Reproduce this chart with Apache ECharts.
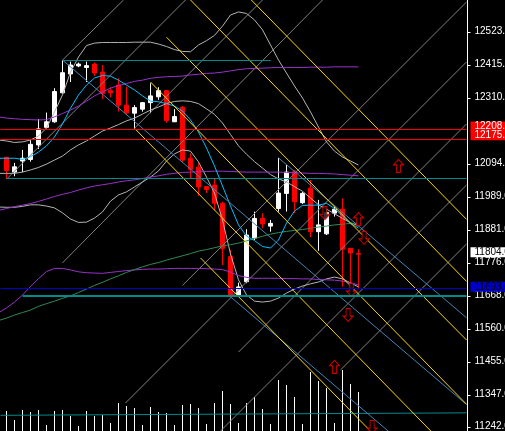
<!DOCTYPE html>
<html><head><meta charset="utf-8">
<script src="https://cdn.jsdelivr.net/npm/echarts@6/dist/echarts.min.js"></script>
<style>html,body{margin:0;padding:0;background:#000;overflow:hidden}#c{width:505px;height:431px}</style>
</head><body><div id="c"></div>
<script>
// ---- candles (index 0..44) ----
const opens  = [12118,12070,12106,12111,12158,12215,12233,12327,12388,12414,12409,12420,12394,12334,12352,12287,12261,12274,12295,12314,12334,12233,12280,12115,12086,12023,12028,11969,11796,11672,11715,11856,11920,11895,11952,12001,12071,11971,12018,11877,11870,11937,11950,11823,11806];
const closes = [12075,12087,12115,12160,12210,12233,12331,12392,12417,12420,12415,12391,12325,12327,12287,12262,12279,12295,12317,12334,12237,12250,12109,12079,12022,12014,11969,11823,11672,11698,11866,11920,11902,11904,12002,12070,11974,12001,11877,11899,11939,11950,11820,11808,11804];
const lows   = [12047,12057,12070,12104,12145,12212,12230,12325,12362,12410,12362,12381,12306,12312,12266,12255,12212,12266,12261,12304,12230,12233,12103,12050,11993,12002,11947,11769,11666,11666,11710,11850,11888,11877,11942,11942,11937,11967,11859,11815,11866,11926,11699,11685,11690];
const highs  = [12120,12100,12142,12174,12242,12263,12342,12433,12428,12425,12428,12425,12417,12345,12374,12347,12287,12297,12358,12345,12336,12274,12284,12131,12100,12025,12051,11974,11818,11712,11885,11942,11937,11915,12116,12093,12077,12006,12045,11980,11953,11958,11985,11823,11820];
const volumes = [20,11,21,19,21,6,20,21,15,5,20,15,16,8,28,25,23,6,24,19,18,6,26,27,23,7,28,40,27,8,28,34,22,7,51,46,34,7,59,50,43,8,61,47,39];
const slotCount = 58;

// ---- indicator lines (index -1..44) ----
const cyanMA = [12115,12115,12115,12111,12120,12135,12155,12184,12226,12277,12320,12352,12375,12383,12381,12368,12352,12336,12317,12300,12298,12292,12284,12268,12239,12200,12148,12090,12025,11960,11899,11863,11848,11829,11824,11850,11905,11944,11962,11963,11963,11969,11952,11928,11903,11889];
const purpleUp = [12249,12245,12243,12241,12240,12239,12240,12249,12260,12271,12284,12300,12317,12330,12342,12351,12357,12364,12368,12374,12377,12379,12380,12381,12385,12387,12390,12391,12394,12398,12402,12405,12406,12407,12408,12409,12409,12409,12409,12410,12410,12410,12411,12411,12411,12411];
const purpleMid = [11946,11952,11958,11963,11968,11975,11983,11991,11998,12004,12012,12019,12025,12029,12033,12038,12042,12045,12049,12054,12058,12063,12066,12069,12070,12071,12072,12073,12073,12072,12071,12070,12070,12070,12070,12070,12069,12068,12067,12066,12066,12065,12064,12062,12060,12058];
const purpleLow = [11614,11630,11649,11672,11699,11725,11748,11758,11758,11753,11747,11744,11743,11742,11745,11748,11751,11753,11755,11756,11756,11757,11758,11758,11758,11758,11757,11756,11754,11746,11735,11729,11726,11726,11726,11726,11725,11725,11724,11724,11722,11721,11720,11717,11712,11704];
const greenMA = [11589,11597,11607,11615,11623,11635,11644,11652,11661,11669,11680,11691,11703,11713,11724,11734,11745,11754,11763,11771,11777,11785,11792,11799,11806,11814,11819,11825,11831,11835,11840,11847,11855,11862,11869,11874,11878,11881,11884,11888,11892,11895,11899,11901,11904,11905];
const grayUp = [12174,12171,12166,12168,12174,12187,12213,12265,12320,12394,12443,12480,12488,12490,12490,12490,12490,12491,12491,12491,12485,12477,12467,12461,12460,12482,12496,12513,12543,12579,12589,12584,12563,12531,12482,12433,12391,12349,12310,12265,12216,12168,12138,12119,12106,12093];
const grayMid = [12066,12066,12066,12070,12077,12085,12096,12109,12122,12142,12158,12171,12187,12203,12213,12224,12236,12245,12258,12271,12281,12292,12299,12301,12299,12292,12275,12257,12229,12192,12155,12128,12104,12083,12062,12048,12038,12023,12008,11986,11964,11950,11935,11920,11906,11896];
const grayLow = [11957,11956,11956,11959,11964,11964,11960,11954,11938,11918,11907,11908,11921,11941,11976,11996,12006,12022,12038,12054,12074,12106,12129,12142,12138,12103,12054,12002,11915,11805,11721,11672,11652,11649,11652,11662,11678,11691,11701,11708,11714,11724,11730,11724,11711,11698];

// ---- horizontal levels [fromIndex, toIndex, price] ----
const redLevels = [12208.2, 12175.2];
const blueLevel = 11693.6;
const bidLevel = 11804.0;
const tealTop = [7, 33, 12433];
const tealMid = [0, 57.5, 12049];
const tealThick = [2, 57.5, 11670];
const tealLow = [[-0.75,11282],[57.5,11290]];

// ---- trend lines [bar index, price] ----
const steelLines = [
  [[7,12433],[57.5,11317]],
  [[34,12116],[57.5,11598]],
  [[28,11666],[57.5,11015]]
];
const goldLines = [
  [[30.6,12627.65],[57.5,11917]],
  [[23,12627.65],[57.5,11716]],
  [[20,12507],[57.5,11526]],
  [[18,12362],[57.5,11318]],
  [[16,12212],[57.5,11113]],
  [[24.25,11792],[57.5,10914]]
];
const grayGann = [
  [[7,12433],[14.625,12627.65]],
  [[0,12047],[22.375,12627.65]],
  [[16,12212],[32,12627.65]],
  [[7,11776],[39.5,12627.65]],
  [[22,11703],[57.5,12621]],
  [[14.875,11322],[57.5,12427]],
  [[29,11487],[57.5,12226]],
  [[26.75,11231.2],[57.5,12028]],
  [[41.75,11429],[57.5,11837]]
];

// ---- arrows ----
const upArrows = [[49,12090],[44,11918],[41,11439]];
const downArrows = [[39.8,11937],[44.7,11857],[42.7,11607],[45.7,11244],[43.1,11688]];

// ---- axis ----
const tickValues = [12523,12415,12310,12094,11989,11881,11776,11668,11560,11455,11347,11242];
const yMin = 11231.2, yMax = 12627.65;

const chart = echarts.init(document.getElementById('c'), null, {renderer:'canvas'});
const categories = Array.from({length: slotCount}, (_, i) => String(i));
const candleData = opens.map((o, i) => [o, closes[i], lows[i], highs[i]]);
const withIdx = arr => arr.map((v, k) => [k - 1, v]);
const font = 'Liberation Sans, Arial, sans-serif';

function lineSeries(data, color, width, z) {
  return {type:'line', xAxisIndex:1, yAxisIndex:2, data, showSymbol:false, symbol:'none', clip:true,
    lineStyle:{color, width}, silent:true, animation:false, z: z || 3};
}
const upPath = 'path://M5,0L10,5L7,5L7,12L3,12L3,5L0,5Z';
const downPath = 'path://M3,0L7,0L7,7L10,7L5,12L0,7L3,7Z';

const series = [
  {type:'bar', xAxisIndex:0, yAxisIndex:1, data: volumes, barWidth:1, itemStyle:{color:'#fff'}, silent:true, animation:false, z:1},
  {type:'candlestick', xAxisIndex:0, yAxisIndex:0, data: candleData, barWidth:4, silent:true, animation:false, z:2,
    itemStyle:{color:'#fff', color0:'#f00', borderColor:'#fff', borderColor0:'#f00', borderWidth:1}}
];
grayGann.forEach(l => series.push(lineSeries(l, '#808080', 1, 3)));
series.push(
  lineSeries(withIdx(grayUp), '#b4b4b4', 1),
  lineSeries(withIdx(grayMid), '#b4b4b4', 1),
  lineSeries(withIdx(grayLow), '#b4b4b4', 1),
  lineSeries(withIdx(purpleUp), '#9932cc', 1),
  lineSeries(withIdx(purpleMid), '#9932cc', 1),
  lineSeries(withIdx(purpleLow), '#9932cc', 1),
  lineSeries(withIdx(greenMA), '#2e8b57', 1),
  lineSeries(withIdx(cyanMA), '#00bfff', 1),
  lineSeries(tealLow, '#008b8b', 1, 4)
);
steelLines.forEach(l => series.push(lineSeries(l, '#4682b4', 1, 4)));
goldLines.forEach(l => series.push(lineSeries(l, '#ffd700', 1, 4)));
series.push({type:'scatter', xAxisIndex:1, yAxisIndex:2, data: upArrows, symbol: upPath, symbolSize:[10,13],
  itemStyle:{color:'#000', borderColor:'#ff0000', borderWidth:1}, silent:true, animation:false, z:6});
series.push({type:'scatter', xAxisIndex:1, yAxisIndex:2, data: downArrows, symbol: downPath, symbolSize:[10,13],
  itemStyle:{color:'#000', borderColor:'#ff0000', borderWidth:1}, silent:true, animation:false, z:6});

const labelValues = tickValues.concat(redLevels, [bidLevel, blueLevel]);
chart.setOption({
  backgroundColor:'#000',
  animation:false,
  grid:[
    {left:2.5, right:38.5, top:0, bottom:0, show:false, containLabel:false, outerBoundsMode:'none'},
    {left:0.5, right:38.5, top:0, bottom:0, show:false, containLabel:false, outerBoundsMode:'none'}
  ],
  xAxis:[
    {type:'category', gridIndex:0, data: categories, show:false, boundaryGap:true},
    {type:'value', gridIndex:1, min:-0.75, max:57.5, show:false}
  ],
  yAxis:[
    {type:'value', gridIndex:0, position:'right', offset:1, min:yMin, max:yMax,
      splitLine:{show:false},
      axisLine:{show:true, lineStyle:{color:'#fff', width:1}},
      axisTick:{show:true, length:3, lineStyle:{color:'#fff'}, customValues: tickValues},
      axisLabel:{show:true, margin:3, customValues: labelValues, fontFamily: font, fontSize:10, hideOverlap:false,
        formatter: v => {
          const s = Number(v).toFixed(1);
          if (v === redLevels[0]) return '{r|' + s + '}\n{g6|}';
          if (v === redLevels[1]) return '{r|' + s + '}\n{g9|}';
          if (v === bidLevel) return '{w|' + s + '}\n{g4|}';
          if (v === blueLevel) return '{b|' + s + '}\n{g3|}';
          return '{n|' + s + '}\n{g2|}';
        },
        rich:{
          n:{color:'#fff', fontSize:10, fontFamily:font, lineHeight:11, padding:[0,0,0,4]},
          r:{color:'#fff', backgroundColor:'#ff0000', fontSize:10, fontFamily:font, lineHeight:9, padding:[0,30,0,4]},
          w:{color:'#000', backgroundColor:'#ffffff', fontSize:10, fontFamily:font, lineHeight:10, padding:[0,30,0,4]},
          b:{color:'#000', backgroundColor:'#0000cc', fontSize:10, fontFamily:font, lineHeight:10, padding:[0,30,0,4]},
          g2:{lineHeight:2, fontSize:1}, g3:{lineHeight:3, fontSize:1}, g4:{lineHeight:4, fontSize:1},
          g6:{lineHeight:6, fontSize:1}, g9:{lineHeight:9, fontSize:1}
        }
      }
    },
    {type:'value', gridIndex:0, min:0, max:431, show:false},
    {type:'value', gridIndex:1, min:yMin, max:yMax, show:false}
  ],
  series
});

// crisp horizontal level lines, positioned through the chart's own scales
const gx = v => chart.convertToPixel({xAxisIndex:1}, v);
const gy = v => chart.convertToPixel({yAxisIndex:2}, v);
function hline(seg, color, width) {
  const y = gy(seg[2]);
  const yy = width % 2 ? Math.floor(y) + 0.5 : Math.round(y);
  return {type:'line', silent:true, z:50,
    shape:{x1:gx(seg[0]), y1:yy, x2:gx(seg[1]), y2:yy},
    style:{stroke:color, lineWidth:width}};
}
chart.setOption({graphic:[
  hline([-0.75, 57.5, redLevels[0]], '#ff0000', 1),
  hline([-0.75, 57.5, redLevels[1]], '#ff0000', 1),
  hline([-0.75, 57.5, blueLevel], '#0000cc', 1),
  hline(tealTop, '#008b8b', 1),
  hline(tealMid, '#008b8b', 1),
  hline(tealThick, '#008b8b', 2)
]});
</script>
</body></html>
